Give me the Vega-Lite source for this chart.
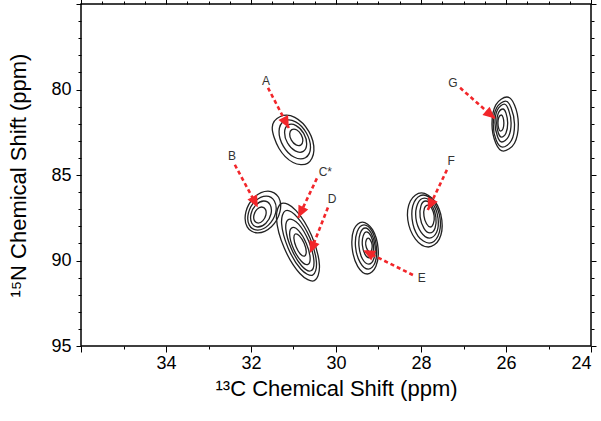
{
  "$schema": "https://vega.github.io/schema/vega-lite/v6.json",
  "width": 510,
  "height": 342,
  "autosize": {"type": "none"},
  "padding": {"left": 81, "top": 4, "right": 10, "bottom": 75},
  "background": "white",
  "config": {
    "view": {"stroke": "#000", "strokeWidth": 1.5},
    "axis": {"labelFont": "Liberation Sans", "titleFont": "Liberation Sans", "labelColor": "#000", "titleColor": "#000", "tickColor": "#000", "tickWidth": 1, "titleFontWeight": "normal", "grid": false, "domain": false, "labelOverlap": false, "labelFlush": false}
  },
  "datasets": {
    "contours": [
      {"c":"A1","i":0,"x":30.67,"y":84.32},{"c":"A1","i":1,"x":31.01,"y":84.27},{"c":"A1","i":2,"x":31.34,"y":83.45},{"c":"A1","i":3,"x":31.50,"y":82.22},{"c":"A1","i":4,"x":31.31,"y":81.58},{"c":"A1","i":5,"x":30.97,"y":81.63},{"c":"A1","i":6,"x":30.64,"y":82.45},{"c":"A1","i":7,"x":30.52,"y":83.57},
      {"c":"A2","i":0,"x":30.72,"y":83.99},{"c":"A2","i":1,"x":30.99,"y":83.95},{"c":"A2","i":2,"x":31.24,"y":83.31},{"c":"A2","i":3,"x":31.34,"y":82.44},{"c":"A2","i":4,"x":31.22,"y":81.85},{"c":"A2","i":5,"x":30.95,"y":81.89},{"c":"A2","i":6,"x":30.70,"y":82.53},{"c":"A2","i":7,"x":30.60,"y":83.40},
      {"c":"A3","i":0,"x":30.77,"y":83.62},{"c":"A3","i":1,"x":30.96,"y":83.59},{"c":"A3","i":2,"x":31.14,"y":83.13},{"c":"A3","i":3,"x":31.21,"y":82.51},{"c":"A3","i":4,"x":31.13,"y":82.08},{"c":"A3","i":5,"x":30.94,"y":82.11},{"c":"A3","i":6,"x":30.76,"y":82.57},{"c":"A3","i":7,"x":30.69,"y":83.19},
      {"c":"A4","i":0,"x":30.83,"y":83.25},{"c":"A4","i":1,"x":30.94,"y":83.24},{"c":"A4","i":2,"x":31.05,"y":82.96},{"c":"A4","i":3,"x":31.09,"y":82.60},{"c":"A4","i":4,"x":31.04,"y":82.35},{"c":"A4","i":5,"x":30.92,"y":82.37},{"c":"A4","i":6,"x":30.82,"y":82.64},{"c":"A4","i":7,"x":30.78,"y":83.00},
      {"c":"B1","i":0,"x":31.60,"y":85.94},{"c":"B1","i":1,"x":31.35,"y":86.30},{"c":"B1","i":2,"x":31.32,"y":87.16},{"c":"B1","i":3,"x":31.52,"y":88.03},{"c":"B1","i":4,"x":31.84,"y":88.39},{"c":"B1","i":5,"x":32.09,"y":88.03},{"c":"B1","i":6,"x":32.12,"y":87.16},{"c":"B1","i":7,"x":31.92,"y":86.30},
      {"c":"B2","i":0,"x":31.64,"y":86.23},{"c":"B2","i":1,"x":31.45,"y":86.52},{"c":"B2","i":2,"x":31.42,"y":87.22},{"c":"B2","i":3,"x":31.59,"y":87.93},{"c":"B2","i":4,"x":31.84,"y":88.22},{"c":"B2","i":5,"x":32.04,"y":87.93},{"c":"B2","i":6,"x":32.06,"y":87.22},{"c":"B2","i":7,"x":31.90,"y":86.52},
      {"c":"B3","i":0,"x":31.70,"y":86.52},{"c":"B3","i":1,"x":31.55,"y":86.74},{"c":"B3","i":2,"x":31.53,"y":87.28},{"c":"B3","i":3,"x":31.65,"y":87.82},{"c":"B3","i":4,"x":31.84,"y":88.04},{"c":"B3","i":5,"x":31.98,"y":87.82},{"c":"B3","i":6,"x":32.00,"y":87.28},{"c":"B3","i":7,"x":31.88,"y":86.74},
      {"c":"B4","i":0,"x":31.75,"y":86.87},{"c":"B4","i":1,"x":31.66,"y":87.01},{"c":"B4","i":2,"x":31.65,"y":87.34},{"c":"B4","i":3,"x":31.72,"y":87.67},{"c":"B4","i":4,"x":31.83,"y":87.81},{"c":"B4","i":5,"x":31.92,"y":87.67},{"c":"B4","i":6,"x":31.93,"y":87.34},{"c":"B4","i":7,"x":31.86,"y":87.01},
      {"c":"CD1","i":0,"x":30.51,"y":91.18},{"c":"CD1","i":1,"x":30.85,"y":90.76},{"c":"CD1","i":2,"x":31.22,"y":89.26},{"c":"CD1","i":3,"x":31.40,"y":87.56},{"c":"CD1","i":4,"x":31.28,"y":86.66},{"c":"CD1","i":5,"x":30.94,"y":87.08},{"c":"CD1","i":6,"x":30.57,"y":88.57},{"c":"CD1","i":7,"x":30.39,"y":90.27},
      {"c":"CD2","i":0,"x":30.55,"y":90.86},{"c":"CD2","i":1,"x":30.83,"y":90.50},{"c":"CD2","i":2,"x":31.13,"y":89.25},{"c":"CD2","i":3,"x":31.28,"y":87.84},{"c":"CD2","i":4,"x":31.19,"y":87.09},{"c":"CD2","i":5,"x":30.92,"y":87.45},{"c":"CD2","i":6,"x":30.61,"y":88.70},{"c":"CD2","i":7,"x":30.46,"y":90.11},
      {"c":"CD3","i":0,"x":30.59,"y":90.60},{"c":"CD3","i":1,"x":30.81,"y":90.31},{"c":"CD3","i":2,"x":31.05,"y":89.31},{"c":"CD3","i":3,"x":31.18,"y":88.18},{"c":"CD3","i":4,"x":31.11,"y":87.59},{"c":"CD3","i":5,"x":30.88,"y":87.87},{"c":"CD3","i":6,"x":30.64,"y":88.88},{"c":"CD3","i":7,"x":30.52,"y":90.00},
      {"c":"CD4","i":0,"x":30.66,"y":90.23},{"c":"CD4","i":1,"x":30.82,"y":90.03},{"c":"CD4","i":2,"x":31.00,"y":89.31},{"c":"CD4","i":3,"x":31.09,"y":88.51},{"c":"CD4","i":4,"x":31.03,"y":88.08},{"c":"CD4","i":5,"x":30.87,"y":88.28},{"c":"CD4","i":6,"x":30.70,"y":88.99},{"c":"CD4","i":7,"x":30.61,"y":89.80},
      {"c":"CD5","i":0,"x":30.74,"y":89.74},{"c":"CD5","i":1,"x":30.84,"y":89.62},{"c":"CD5","i":2,"x":30.94,"y":89.20},{"c":"CD5","i":3,"x":30.99,"y":88.71},{"c":"CD5","i":4,"x":30.96,"y":88.45},{"c":"CD5","i":5,"x":30.86,"y":88.56},{"c":"CD5","i":6,"x":30.75,"y":88.99},{"c":"CD5","i":7,"x":30.70,"y":89.48},
      {"c":"E1","i":0,"x":29.38,"y":87.75},{"c":"E1","i":1,"x":29.14,"y":88.19},{"c":"E1","i":2,"x":29.01,"y":89.27},{"c":"E1","i":3,"x":29.06,"y":90.34},{"c":"E1","i":4,"x":29.26,"y":90.79},{"c":"E1","i":5,"x":29.49,"y":90.34},{"c":"E1","i":6,"x":29.62,"y":89.27},{"c":"E1","i":7,"x":29.58,"y":88.19},
      {"c":"E2","i":0,"x":29.34,"y":87.92},{"c":"E2","i":1,"x":29.15,"y":88.30},{"c":"E2","i":2,"x":29.05,"y":89.21},{"c":"E2","i":3,"x":29.08,"y":90.12},{"c":"E2","i":4,"x":29.24,"y":90.50},{"c":"E2","i":5,"x":29.43,"y":90.12},{"c":"E2","i":6,"x":29.54,"y":89.21},{"c":"E2","i":7,"x":29.50,"y":88.30},
      {"c":"E3","i":0,"x":29.31,"y":88.10},{"c":"E3","i":1,"x":29.17,"y":88.41},{"c":"E3","i":2,"x":29.08,"y":89.15},{"c":"E3","i":3,"x":29.11,"y":89.90},{"c":"E3","i":4,"x":29.23,"y":90.21},{"c":"E3","i":5,"x":29.38,"y":89.90},{"c":"E3","i":6,"x":29.46,"y":89.15},{"c":"E3","i":7,"x":29.43,"y":88.41},
      {"c":"E4","i":0,"x":29.28,"y":88.33},{"c":"E4","i":1,"x":29.18,"y":88.56},{"c":"E4","i":2,"x":29.12,"y":89.09},{"c":"E4","i":3,"x":29.14,"y":89.63},{"c":"E4","i":4,"x":29.22,"y":89.85},{"c":"E4","i":5,"x":29.32,"y":89.63},{"c":"E4","i":6,"x":29.38,"y":89.09},{"c":"E4","i":7,"x":29.36,"y":88.56},
      {"c":"E5","i":0,"x":29.24,"y":88.69},{"c":"E5","i":1,"x":29.19,"y":88.81},{"c":"E5","i":2,"x":29.15,"y":89.09},{"c":"E5","i":3,"x":29.16,"y":89.38},{"c":"E5","i":4,"x":29.20,"y":89.50},{"c":"E5","i":5,"x":29.26,"y":89.38},{"c":"E5","i":6,"x":29.30,"y":89.09},{"c":"E5","i":7,"x":29.29,"y":88.81},
      {"c":"F1","i":0,"x":27.99,"y":86.05},{"c":"F1","i":1,"x":27.68,"y":86.52},{"c":"F1","i":2,"x":27.51,"y":87.63},{"c":"F1","i":3,"x":27.57,"y":88.75},{"c":"F1","i":4,"x":27.83,"y":89.21},{"c":"F1","i":5,"x":28.13,"y":88.75},{"c":"F1","i":6,"x":28.31,"y":87.63},{"c":"F1","i":7,"x":28.25,"y":86.52},
      {"c":"F2","i":0,"x":27.95,"y":86.17},{"c":"F2","i":1,"x":27.70,"y":86.58},{"c":"F2","i":2,"x":27.55,"y":87.57},{"c":"F2","i":3,"x":27.60,"y":88.57},{"c":"F2","i":4,"x":27.81,"y":88.98},{"c":"F2","i":5,"x":28.07,"y":88.57},{"c":"F2","i":6,"x":28.21,"y":87.57},{"c":"F2","i":7,"x":28.16,"y":86.58},
      {"c":"F3","i":0,"x":27.92,"y":86.35},{"c":"F3","i":1,"x":27.72,"y":86.69},{"c":"F3","i":2,"x":27.60,"y":87.52},{"c":"F3","i":3,"x":27.63,"y":88.34},{"c":"F3","i":4,"x":27.80,"y":88.69},{"c":"F3","i":5,"x":28.00,"y":88.34},{"c":"F3","i":6,"x":28.12,"y":87.52},{"c":"F3","i":7,"x":28.08,"y":86.69},
      {"c":"F4","i":0,"x":27.89,"y":86.52},{"c":"F4","i":1,"x":27.74,"y":86.79},{"c":"F4","i":2,"x":27.65,"y":87.46},{"c":"F4","i":3,"x":27.67,"y":88.12},{"c":"F4","i":4,"x":27.79,"y":88.39},{"c":"F4","i":5,"x":27.93,"y":88.12},{"c":"F4","i":6,"x":28.02,"y":87.46},{"c":"F4","i":7,"x":28.00,"y":86.79},
      {"c":"F5","i":0,"x":27.84,"y":86.76},{"c":"F5","i":1,"x":27.75,"y":86.94},{"c":"F5","i":2,"x":27.69,"y":87.40},{"c":"F5","i":3,"x":27.71,"y":87.85},{"c":"F5","i":4,"x":27.78,"y":88.04},{"c":"F5","i":5,"x":27.87,"y":87.85},{"c":"F5","i":6,"x":27.93,"y":87.40},{"c":"F5","i":7,"x":27.92,"y":86.94},
      {"c":"G1","i":0,"x":25.98,"y":80.44},{"c":"G1","i":1,"x":25.80,"y":80.90},{"c":"G1","i":2,"x":25.71,"y":82.02},{"c":"G1","i":3,"x":25.80,"y":83.14},{"c":"G1","i":4,"x":26.06,"y":83.60},{"c":"G1","i":5,"x":26.24,"y":83.14},{"c":"G1","i":6,"x":26.33,"y":82.02},{"c":"G1","i":7,"x":26.24,"y":80.90},
      {"c":"G2","i":0,"x":26.01,"y":80.68},{"c":"G2","i":1,"x":25.88,"y":81.07},{"c":"G2","i":2,"x":25.80,"y":82.02},{"c":"G2","i":3,"x":25.87,"y":82.97},{"c":"G2","i":4,"x":26.08,"y":83.37},{"c":"G2","i":5,"x":26.23,"y":82.97},{"c":"G2","i":6,"x":26.30,"y":82.02},{"c":"G2","i":7,"x":26.22,"y":81.07},
      {"c":"G3","i":0,"x":26.04,"y":80.85},{"c":"G3","i":1,"x":25.94,"y":81.18},{"c":"G3","i":2,"x":25.88,"y":81.96},{"c":"G3","i":3,"x":25.94,"y":82.75},{"c":"G3","i":4,"x":26.10,"y":83.07},{"c":"G3","i":5,"x":26.20,"y":82.75},{"c":"G3","i":6,"x":26.26,"y":81.96},{"c":"G3","i":7,"x":26.20,"y":81.18},
      {"c":"G4","i":0,"x":26.07,"y":81.14},{"c":"G4","i":1,"x":26.00,"y":81.38},{"c":"G4","i":2,"x":25.96,"y":81.96},{"c":"G4","i":3,"x":26.00,"y":82.54},{"c":"G4","i":4,"x":26.11,"y":82.78},{"c":"G4","i":5,"x":26.18,"y":82.54},{"c":"G4","i":6,"x":26.22,"y":81.96},{"c":"G4","i":7,"x":26.18,"y":81.38},
      {"c":"G5","i":0,"x":26.11,"y":81.49},{"c":"G5","i":1,"x":26.07,"y":81.63},{"c":"G5","i":2,"x":26.05,"y":81.96},{"c":"G5","i":3,"x":26.07,"y":82.29},{"c":"G5","i":4,"x":26.13,"y":82.43},{"c":"G5","i":5,"x":26.17,"y":82.29},{"c":"G5","i":6,"x":26.19,"y":81.96},{"c":"G5","i":7,"x":26.17,"y":81.63}
    ],
    "arrows": [
      {"label":"A","lx":31.65,"ly":79.5,"sx":31.60,"sy":79.9,"tx":31.11,"ty":82.25,"angle":152},
      {"label":"B","lx":32.45,"ly":83.9,"sx":32.38,"sy":84.4,"tx":31.84,"ty":86.9,"angle":152},
      {"label":"C*","lx":30.25,"ly":84.8,"sx":30.45,"sy":85.2,"tx":30.89,"ty":87.5,"angle":206},
      {"label":"D","lx":30.09,"ly":86.4,"sx":30.19,"sy":86.9,"tx":30.61,"ty":89.56,"angle":202},
      {"label":"E","lx":27.98,"ly":91.0,"sx":28.19,"sy":90.85,"tx":29.36,"ty":89.4,"angle":297},
      {"label":"F","lx":27.29,"ly":84.2,"sx":27.39,"sy":84.7,"tx":27.84,"ty":87.05,"angle":205},
      {"label":"G","lx":27.25,"ly":79.6,"sx":27.08,"sy":79.9,"tx":26.26,"ty":81.7,"angle":131}
    ]
  },
  "layer": [
    {
      "data": {"name": "contours"},
      "mark": {"type": "line", "interpolate": "cardinal-closed", "color": "#222", "strokeWidth": 1.3},
      "encoding": {
        "x": {"field": "x", "type": "quantitative", "scale": {"domain": [24, 36], "reverse": true, "nice": false, "zero": false},
          "axis": {"orient": "bottom", "values": [24,24.5,25,25.5,26,26.5,27,27.5,28,28.5,29,29.5,30,30.5,31,31.5,32,32.5,33,33.5,34,34.5,35,35.5,36],
            "format": "d", "labelFlush": true,
            "labelExpr": "datum.value % 2 === 0 && datum.value < 36 ? datum.label : ''",
            "tickSize": {"condition": {"test": "datum.value % 2 === 0", "value": 6}, "value": 3},
            "labelFontSize": 18, "labelPadding": 2, "title": "¹³C Chemical Shift (ppm)", "titleFontSize": 22, "titlePadding": 6}},
        "y": {"field": "y", "type": "quantitative", "scale": {"domain": [75, 95], "reverse": true, "nice": false, "zero": false},
          "axis": {"orient": "left", "values": [75,76,77,78,79,80,81,82,83,84,85,86,87,88,89,90,91,92,93,94,95],
            "format": "d",
            "labelExpr": "datum.value % 5 === 0 && datum.value > 75 ? datum.label : ''",
            "tickSize": {"condition": {"test": "datum.value % 5 === 0", "value": 5}, "value": 3},
            "labelFontSize": 18, "labelPadding": 5, "title": "¹⁵N Chemical Shift (ppm)", "titleFontSize": 22, "titlePadding": 20}},
        "detail": {"field": "c", "type": "nominal"},
        "order": {"field": "i", "type": "quantitative"}
      }
    },
    {
      "data": {"name": "arrows"},
      "mark": {"type": "rule", "color": "#f2262a", "strokeWidth": 2.6, "strokeDash": [4, 3]},
      "encoding": {
        "x": {"field": "sx", "type": "quantitative", "scale": {"domain": [24, 36], "reverse": true, "nice": false, "zero": false},
          "axis": {"orient": "top", "values": [24,24.5,25,25.5,26,26.5,27,27.5,28,28.5,29,29.5,30,30.5,31,31.5,32,32.5,33,33.5,34,34.5,35,35.5,36],
            "labels": false, "title": null,
            "tickSize": {"condition": {"test": "datum.value % 2 === 0", "value": 6}, "value": 3}}},
        "y": {"field": "sy", "type": "quantitative", "scale": {"domain": [75, 95], "reverse": true, "nice": false, "zero": false},
          "axis": {"orient": "right", "values": [75,76,77,78,79,80,81,82,83,84,85,86,87,88,89,90,91,92,93,94,95],
            "labels": false, "title": null,
            "tickSize": {"condition": {"test": "datum.value % 5 === 0", "value": 5}, "value": 3}}},
        "x2": {"field": "tx"},
        "y2": {"field": "ty"}
      }
    },
    {
      "data": {"name": "arrows"},
      "mark": {"type": "point", "shape": "M0,0L0.46,1L-0.46,1Z", "filled": true, "color": "#f2262a", "opacity": 1, "size": 560, "strokeWidth": 0},
      "encoding": {
        "x": {"field": "tx", "type": "quantitative", "scale": {"domain": [24, 36], "reverse": true, "nice": false, "zero": false}, "axis": null},
        "y": {"field": "ty", "type": "quantitative", "scale": {"domain": [75, 95], "reverse": true, "nice": false, "zero": false}, "axis": null},
        "angle": {"field": "angle", "type": "quantitative", "scale": null}
      }
    },
    {
      "data": {"name": "arrows"},
      "mark": {"type": "text", "font": "Liberation Sans", "fontSize": 12, "color": "#333", "align": "center", "baseline": "middle"},
      "encoding": {
        "x": {"field": "lx", "type": "quantitative", "scale": {"domain": [24, 36], "reverse": true, "nice": false, "zero": false}, "axis": null},
        "y": {"field": "ly", "type": "quantitative", "scale": {"domain": [75, 95], "reverse": true, "nice": false, "zero": false}, "axis": null},
        "text": {"field": "label", "type": "nominal"}
      }
    }
  ]
}
